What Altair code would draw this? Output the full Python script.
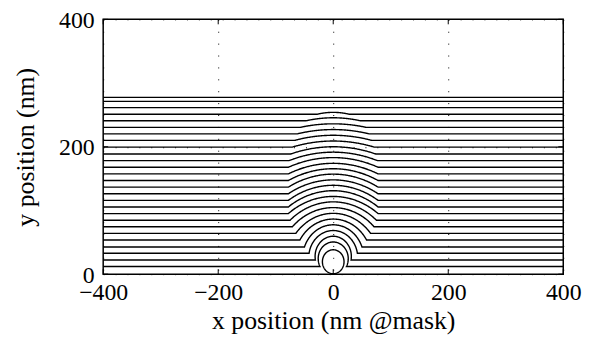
import numpy as np
import pandas as pd
import altair as alt

# ---- values ----
x_ticks = [-400, -200, 0, 200, 400]
y_ticks = [0, 200, 400]

# level of each horizontal line (nm), bottom to top
h_levels = [12, 22.3, 32.8, 42.7, 53.6, 64, 74.4, 84.7, 95.1, 105.5, 115.8,
            126.2, 136.6, 147, 157.4, 167.8, 178.2, 188.6, 199.5, 210, 220.3,
            230.5, 240.8, 251, 261.5, 271.3, 277.5]
# height of the bump at x = 0 for the lower lines
arc_tops = [50.5, 59.5, 68.5, 77.5, 86.5, 95.5, 104.5, 113.5, 122, 131, 139.5,
            148, 157, 165.5, 174, 183, 191.5, 200, 209, 218, 227, 236, 245.5, 254]
# half width where the bump leaves the flat line
arc_half_widths = [23, 31, 42, 50, 58, 65, 71, 75, 78, 78, 78, 78, 78, 78, 78,
                   78, 77, 74, 71, 67, 62, 57, 47, 28]
# small closed contour at the bottom
circle_center = [0, 19.5]
circle_radius = 18.8

# ---- build the curve table ----
rows = []
for i, h in enumerate(h_levels):
    pts = [(-400.0, h)]
    if i < len(arc_tops):
        T, w = arc_tops[i], arc_half_widths[i]
        c = (T ** 2 - h ** 2 - w ** 2) / (2 * (T - h))
        R = T - c
        th0 = np.arctan2(h - c, w)
        for t in np.linspace(np.pi - th0, th0, 120):
            pts.append((R * np.cos(t), c + R * np.sin(t)))
    pts.append((400.0, h))
    for k, (px, py) in enumerate(pts):
        rows.append({"curve": f"c{i}", "k": k, "x": px, "y": py})
for k, t in enumerate(np.linspace(0, 2 * np.pi, 121)):
    rows.append({"curve": "circle", "k": k,
                 "x": circle_center[0] + circle_radius * np.cos(t),
                 "y": circle_center[1] + circle_radius * np.sin(t)})
df = pd.DataFrame(rows)

W, H = 464, 257
FONT = "Liberation Serif"

xenc = alt.X("x:Q", scale=alt.Scale(domain=[-400, 400], nice=False, zero=False),
             axis=alt.Axis(values=x_ticks, title="x position (nm @mask)", format="d"))
yenc = alt.Y("y:Q", scale=alt.Scale(domain=[0, 400], nice=False, zero=False),
             axis=alt.Axis(values=y_ticks, title="y position (nm)", format="d"))

lines = alt.Chart(df).mark_line(color="black", strokeWidth=1.4).encode(
    x=xenc, y=yenc, detail="curve:N", order="k:Q")

xt = pd.DataFrame({"x": x_ticks})
yt = pd.DataFrame({"y": y_ticks})
tick_style = dict(color="black", strokeWidth=1)
bottom_ticks = alt.Chart(xt).mark_rule(**tick_style).encode(
    x=xenc, y=alt.value(H), y2=alt.value(H - 5))
top_ticks = alt.Chart(xt).mark_rule(**tick_style).encode(
    x=xenc, y=alt.value(0), y2=alt.value(5))
left_ticks = alt.Chart(yt).mark_rule(**tick_style).encode(
    y=yenc, x=alt.value(0), x2=alt.value(5))
right_ticks = alt.Chart(yt).mark_rule(**tick_style).encode(
    y=yenc, x=alt.value(W), x2=alt.value(W - 5))

chart = alt.layer(lines, bottom_ticks, top_ticks, left_ticks, right_ticks).properties(
    width=W, height=H,
    autosize=alt.AutoSizeParams(type="none"),
    padding={"left": 96, "top": 10, "right": 30, "bottom": 70},
).configure_view(
    stroke="black", strokeWidth=1.5
).configure_axis(
    domain=False, ticks=False, grid=True, gridColor="black", gridOpacity=1,
    gridWidth=1, gridDash=[1, 11], labelFont=FONT, labelFontSize=24,
    labelColor="black", labelFlush=False, labelPadding=7,
    titleFont=FONT, titleFontSize=26, titleFontWeight="normal", titleColor="black",
).configure_axisX(titlePadding=3).configure_axisY(titlePadding=20, labelPadding=9,
                                                   labelOffset=1)

chart.save("out.html", embed_options={"renderer": "svg", "actions": False})
